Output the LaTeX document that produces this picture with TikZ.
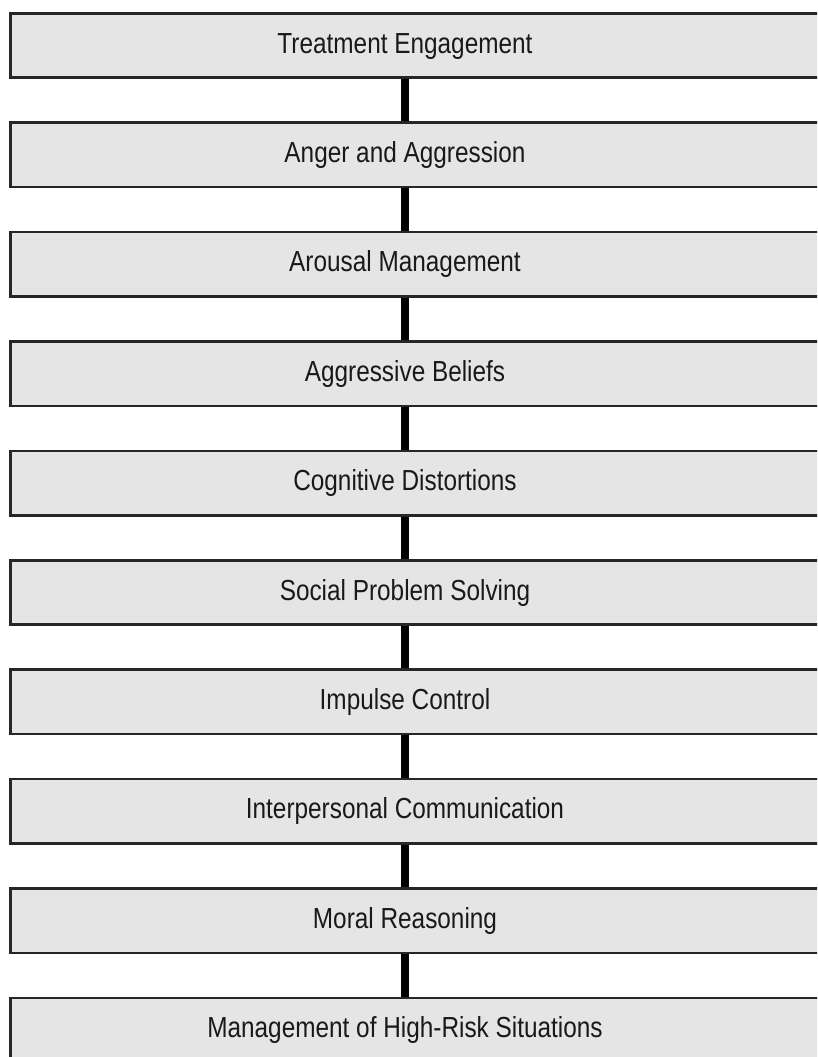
\documentclass[tikz,border=0pt]{standalone}
\usepackage{fontspec}
\newfontfamily\boxfont[FakeStretch=0.84]{Liberation Sans}
\begin{document}
\begin{tikzpicture}[x=1pt,y=-1pt,
  stagebox/.style={draw=black!85,line width=2.6pt,fill=black!10},
  stagelabel/.style={anchor=base,font=\boxfont\fontsize{29}{34}\selectfont,text=black!90,inner sep=0pt},
  link/.style={fill=black,draw=none}]
\useasboundingbox (0,0) rectangle (817,1057);
\begin{scope}
\clip (0,0) rectangle (817,1057);
\foreach \i/\t in {0/Treatment Engagement,1/Anger and Aggression,2/Arousal Management,3/Aggressive Beliefs,4/Cognitive Distortions,5/Social Problem Solving,6/Impulse Control,7/Interpersonal Communication,8/Moral Reasoning,9/Management of High-Risk Situations}{
  \pgfmathsetmacro{\top}{12+\i*109.4}
  \draw[stagebox] (10.3,\top+1.3) rectangle (840,\top+65.7);
  \node[stagelabel] (s\i) at (405,\top+41) {\t};
}
\foreach \i in {0,...,8}{
  \pgfmathsetmacro{\bot}{12+\i*109.4+67}
  \pgfmathsetmacro{\nxt}{12+(\i+1)*109.4}
  \fill[link] (401,\bot) rectangle (409,\nxt);
}
\end{scope}
\end{tikzpicture}
\end{document}
